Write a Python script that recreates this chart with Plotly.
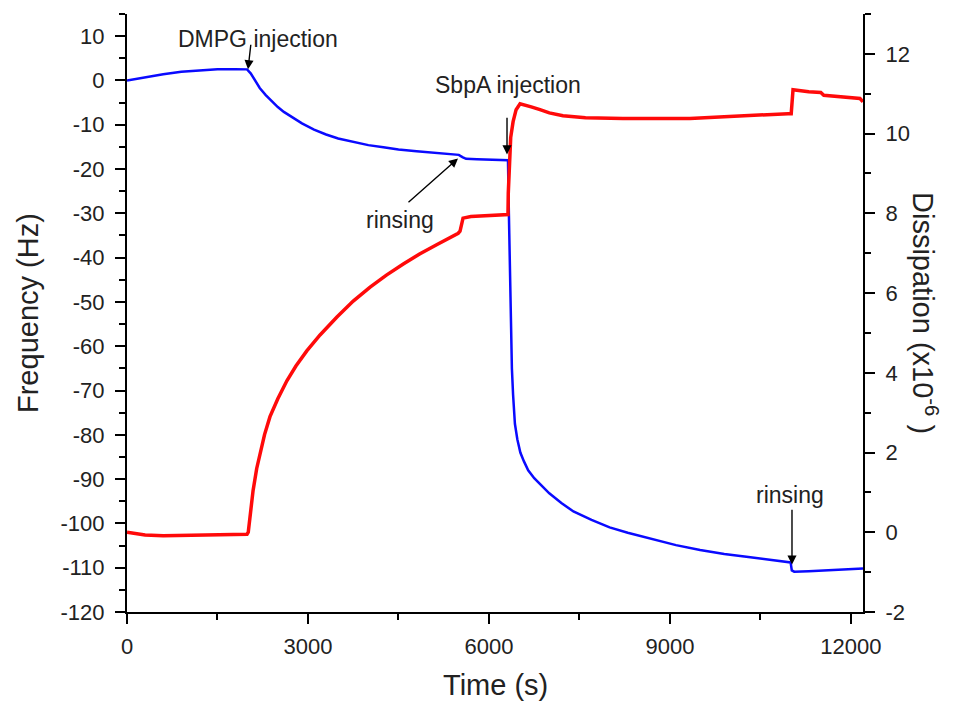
import plotly.graph_objects as go

# ---- Frequency (blue, left axis) ----
freq_t = [0, 200, 400, 600, 900, 1200, 1500, 1800, 1990, 2050, 2120, 2200, 2300, 2400,
          2500, 2600, 2750, 2900, 3100, 3300, 3500, 3750, 4000, 4250, 4500, 4800, 5100,
          5400, 5500, 5560, 5620, 5800, 6000, 6200, 6315, 6330, 6345, 6360, 6380, 6400,
          6430, 6470, 6520, 6580, 6650, 6750, 6850, 7000, 7200, 7400, 7700, 8000, 8300,
          8700, 9100, 9500, 9900, 10300, 10700, 11000, 11020, 11060, 11300, 11600, 11900, 12200]
freq_hz = [0.0, 0.5, 0.95, 1.4, 1.95, 2.3, 2.5, 2.55, 2.5, 1.6, 0.0, -1.7, -3.3, -4.7,
           -6.0, -7.1, -8.5, -9.7, -11.1, -12.2, -13.1, -13.9, -14.6, -15.1, -15.6, -16.0, -16.4,
           -16.7, -16.8, -17.3, -17.7, -17.8, -17.9, -17.9, -18.0, -30.0, -42.0, -53.0, -65.0, -71.0,
           -77.5, -81.0, -84.0, -86.0, -88.0, -89.8, -91.2, -93.2, -95.4, -97.3, -99.2, -100.9, -102.1,
           -103.5, -104.9, -106.0, -106.9, -107.6, -108.3, -108.8, -110.6, -110.9, -110.8, -110.6, -110.4, -110.2]

# ---- Dissipation (red, right axis) ----
diss_t = [0, 150, 300, 600, 1000, 1400, 1800, 1990, 2010, 2050, 2090, 2150, 2205, 2280,
          2370, 2500, 2650, 2800, 2980, 3200, 3480, 3750, 4030, 4300, 4580, 4850, 5140,
          5350, 5490, 5520, 5570, 5700, 6000, 6315, 6320, 6335, 6360, 6400, 6450, 6515,
          6600, 6700, 6846, 7000, 7227, 7600, 8221, 8800, 9332, 9900, 10443, 10957, 11010,
          11040, 11300, 11500, 11550, 11800, 12150, 12200]
diss_val = [0.0, -0.04, -0.07, -0.09, -0.08, -0.07, -0.05, -0.05, 0.0, 0.55, 1.05, 1.6, 2.0, 2.45,
            2.9, 3.35, 3.8, 4.17, 4.55, 4.95, 5.4, 5.8, 6.15, 6.45, 6.73, 6.98, 7.22,
            7.38, 7.5, 7.55, 7.88, 7.92, 7.95, 7.97, 8.5, 9.3, 9.9, 10.3, 10.6, 10.75,
            10.72, 10.67, 10.6, 10.52, 10.45, 10.4, 10.38, 10.37, 10.38, 10.42, 10.47, 10.5, 10.5,
            11.1, 11.05, 11.03, 10.96, 10.93, 10.88, 10.8]

# ---- ticks ----
x_ticks = [0, 3000, 6000, 9000, 12000]
x_ticktext = ["0", "3000", "6000", "9000", "12000"]
y_ticks = [10, 0, -10, -20, -30, -40, -50, -60, -70, -80, -90, -100, -110, -120]
y_ticktext = ["10", "0", "-10", "-20", "-30", "-40", "-50", "-60", "-70", "-80", "-90", "-100", "-110", "-120"]
y2_ticks = [12, 10, 8, 6, 4, 2, 0, -2]
y2_ticktext = ["12", "10", "8", "6", "4", "2", "0", "-2"]

# ---- annotations (frequency-axis coordinates) ----
labels = ["DMPG injection", "rinsing", "SbpA injection", "rinsing"]
label_x = [2171, 4525, 6315, 10990]
label_y = [9.3, -31.4, -1.1, -93.5]
head_x = [2006, 5487, 6299, 11023]
head_y = [2.5, -17.6, -16.7, -109.3]
tail_x = [2055, 4641, 6299, 11023]
tail_y = [8.4, -27.8, -8.1, -96.6]

FONT = "Liberation Sans, Arial, sans-serif"

fig = go.Figure()
fig.add_trace(go.Scatter(x=freq_t, y=freq_hz, mode="lines",
                         line=dict(color="#0a0aff", width=2.5), yaxis="y", xaxis="x"))
fig.add_trace(go.Scatter(x=diss_t, y=diss_val, mode="lines",
                         line=dict(color="#ff0a0a", width=3.5), yaxis="y2", xaxis="x"))

xr = [0, 12200]
common = dict(showgrid=False, zeroline=False, showline=True, linecolor="black", linewidth=2,
              tickcolor="black", tickwidth=1.6,
              tickfont=dict(family=FONT, size=22, color="#222"))

fig.update_layout(
    width=956, height=702,
    margin=dict(l=127, r=93, t=14, b=90),
    paper_bgcolor="white", plot_bgcolor="white",
    showlegend=False, hovermode=False,
    font=dict(family=FONT, color="#222"),
    xaxis=dict(range=xr, tickvals=x_ticks, ticktext=x_ticktext, ticks="outside", ticklen=10,
               minor=dict(dtick=1500, tick0=0, ticks="outside", ticklen=6, tickcolor="black", tickwidth=1.6),
               ticklabelstandoff=4, **common),
    xaxis2=dict(range=xr, overlaying="x", side="top", anchor="y", ticks="inside", ticklen=10,
                tickvals=x_ticks, showticklabels=False,
                minor=dict(dtick=1500, tick0=0, ticks="inside", ticklen=6, tickcolor="black", tickwidth=1.6),
                **common),
    yaxis=dict(range=[-120, 15], tickvals=y_ticks, ticktext=y_ticktext, ticks="outside", ticklen=10,
               minor=dict(dtick=5, tick0=0, ticks="outside", ticklen=6, tickcolor="black", tickwidth=1.6),
               ticklabelstandoff=6, **common),
    yaxis2=dict(range=[-2, 13], overlaying="y", side="right", anchor="x",
                tickvals=y2_ticks, ticktext=y2_ticktext, ticks="outside", ticklen=10,
                minor=dict(dtick=1, tick0=0, ticks="outside", ticklen=6, tickcolor="black", tickwidth=1.6),
                ticklabelstandoff=6, **common),
)

annotations = []
for i in range(len(labels)):
    annotations.append(dict(x=head_x[i], y=head_y[i], ax=tail_x[i], ay=tail_y[i],
                            xref="x", yref="y", axref="x", ayref="y", text="",
                            showarrow=True, arrowhead=2, arrowsize=1.3, arrowwidth=1.4,
                            arrowcolor="black"))
    annotations.append(dict(x=label_x[i], y=label_y[i], xref="x", yref="y", text=labels[i],
                            showarrow=False, xanchor="center", yanchor="middle",
                            font=dict(family=FONT, size=23, color="#222")))

annotations.append(dict(x=0.5, y=-0.122, xref="paper", yref="paper", text="Time (s)",
                        showarrow=False, xanchor="center", yanchor="middle",
                        font=dict(family=FONT, size=29, color="#222")))
annotations.append(dict(x=(28 - 127) / 736, y=0.5, xref="paper", yref="paper", text="Frequency (Hz)",
                        showarrow=False, xanchor="center", yanchor="middle", textangle=-90,
                        font=dict(family=FONT, size=29, color="#222")))
annotations.append(dict(x=(925 - 127) / 736, y=0.5, xref="paper", yref="paper",
                        text="Dissipation (x10<sup>-6</sup> )",
                        showarrow=False, xanchor="center", yanchor="middle", textangle=90,
                        font=dict(family=FONT, size=29, color="#222")))
fig.update_layout(annotations=annotations)

fig.write_html("out.html")
